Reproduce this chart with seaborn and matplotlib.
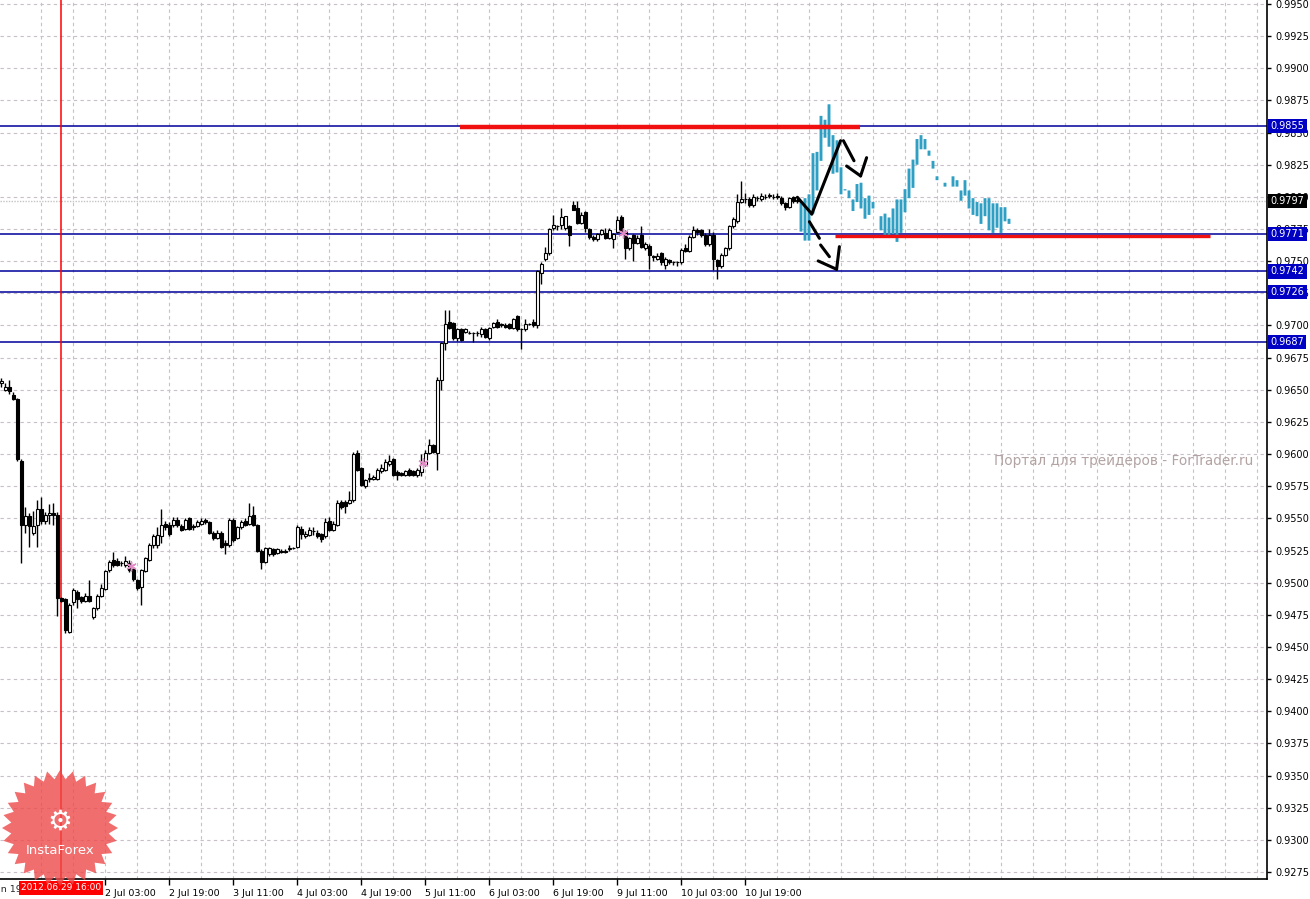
import numpy as np
import matplotlib
matplotlib.use('Agg')
import matplotlib.pyplot as plt
import matplotlib.transforms as mtransforms
from matplotlib.patches import Polygon
import seaborn as sns

# H1 candles, one per bar index (0 = left edge of the chart)
candle_open = [
    .9655, .9650, .9652, .9646, .9643, .9595, .9545, .9552, .9539, .9545,
    .9557, .9548, .9553, .9554, .9553, .9488, .9487, .9462, .9485, .9493,
    .9489, .9486, .9490, .9473, .9480, .9490, .9495, .9510, .9518, .9517,
    .9515, .9514, .9515, .9511, .9502, .9497, .9509, .9518, .9529, .9529,
    .9536, .9546, .9545, .9545, .9549, .9544, .9542, .9550, .9544, .9544,
    .9546, .9549, .9547, .9539, .9535, .9539, .9531, .9529, .9549, .9535,
    .9543, .9548, .9546, .9553, .9545, .9525, .9516, .9522, .9526, .9523,
    .9525, .9525, .9526, .9527, .9528, .9542, .9536, .9537, .9540, .9539,
    .9538, .9536, .9548, .9541, .9545, .9563, .9563, .9562, .9564, .9601,
    .9589, .9575, .9581, .9581, .9581, .9587, .9588, .9592, .9596, .9586,
    .9585, .9584, .9588, .9587, .9584, .9586, .9592, .9601, .9607, .9601,
    .9658, .9686, .9703, .9702, .9690, .9697, .9695, .9694, .9694, .9694,
    .9693, .9697, .9690, .9699, .9703, .9701, .9700, .9701, .9698, .9707,
    .9697, .9697, .9701, .9703, .9700, .9741, .9752, .9756, .9776, .9777,
    .9778, .9776, .9777, .9794, .9791, .9780, .9788, .9775, .9769, .9767,
    .9771, .9772, .9768, .9767, .9773, .9784, .9773, .9760, .9770, .9764,
    .9770, .9760, .9762, .9754, .9752, .9756, .9747, .9751, .9749, .9749,
    .9749, .9760, .9758, .9769, .9774, .9774, .9770, .9763, .9770, .9751,
    .9746, .9755, .9760, .9777, .9781, .9796, .9798, .9798, .9794, .9799,
    .9798, .9800, .9801, .9800, .9800, .9799, .9795, .9792, .9800, .9797,
]
candle_high = [
    .9659, .9655, .9658, .9648, .9644, .9596, .9559, .9554, .9556, .9564,
    .9567, .9555, .9561, .9562, .9555, .9489, .9488, .9484, .9496, .9494,
    .9490, .9492, .9502, .9481, .9491, .9499, .9510, .9518, .9524, .9519,
    .9517, .9521, .9518, .9512, .9503, .9511, .9520, .9531, .9538, .9543,
    .9557, .9548, .9547, .9551, .9551, .9546, .9550, .9551, .9546, .9549,
    .9550, .9550, .9548, .9540, .9541, .9540, .9533, .9550, .9550, .9544,
    .9549, .9550, .9562, .9560, .9546, .9526, .9528, .9528, .9527, .9527,
    .9526, .9526, .9529, .9528, .9545, .9544, .9540, .9543, .9543, .9541,
    .9539, .9550, .9551, .9548, .9564, .9564, .9564, .9571, .9602, .9603,
    .9590, .9581, .9585, .9584, .9589, .9592, .9596, .9599, .9597, .9588,
    .9586, .9588, .9589, .9588, .9589, .9600, .9603, .9612, .9608, .9660,
    .9687, .9712, .9712, .9703, .9698, .9698, .9698, .9696, .9695, .9696,
    .9699, .9698, .9699, .9703, .9705, .9702, .9702, .9702, .9706, .9708,
    .9698, .9705, .9702, .9705, .9743, .9749, .9761, .9776, .9786, .9778,
    .9791, .9785, .9778, .9797, .9797, .9788, .9789, .9776, .9770, .9772,
    .9775, .9776, .9776, .9772, .9785, .9786, .9774, .9769, .9771, .9770,
    .9777, .9765, .9763, .9755, .9756, .9757, .9753, .9752, .9750, .9750,
    .9760, .9763, .9770, .9777, .9776, .9775, .9772, .9775, .9773, .9752,
    .9756, .9761, .9778, .9784, .9802, .9812, .9803, .9800, .9802, .9801,
    .9803, .9802, .9803, .9802, .9803, .9801, .9796, .9800, .9801, .9800,
]
candle_low = [
    .9652, .9649, .9647, .9642, .9595, .9515, .9539, .9528, .9537, .9528,
    .9546, .9546, .9546, .9545, .9474, .9485, .9461, .9461, .9483, .9480,
    .9484, .9485, .9485, .9472, .9479, .9489, .9494, .9508, .9512, .9513,
    .9513, .9512, .9508, .9501, .9494, .9483, .9508, .9517, .9527, .9527,
    .9531, .9541, .9536, .9543, .9543, .9540, .9541, .9541, .9541, .9543,
    .9545, .9546, .9538, .9533, .9534, .9527, .9522, .9528, .9532, .9534,
    .9542, .9544, .9545, .9544, .9524, .9511, .9515, .9521, .9521, .9522,
    .9523, .9523, .9525, .9526, .9527, .9534, .9535, .9536, .9537, .9535,
    .9532, .9535, .9540, .9540, .9544, .9557, .9554, .9561, .9563, .9587,
    .9575, .9574, .9578, .9580, .9580, .9585, .9587, .9591, .9583, .9580,
    .9583, .9583, .9583, .9583, .9582, .9583, .9591, .9600, .9601, .9588,
    .9650, .9681, .9697, .9689, .9688, .9688, .9694, .9693, .9687, .9692,
    .9691, .9690, .9689, .9698, .9698, .9699, .9698, .9697, .9697, .9696,
    .9682, .9696, .9700, .9699, .9698, .9732, .9750, .9755, .9774, .9774,
    .9775, .9774, .9762, .9790, .9779, .9779, .9773, .9767, .9766, .9766,
    .9770, .9767, .9767, .9760, .9772, .9772, .9752, .9759, .9750, .9763,
    .9760, .9759, .9744, .9750, .9751, .9747, .9744, .9748, .9747, .9746,
    .9748, .9757, .9757, .9768, .9770, .9769, .9762, .9762, .9743, .9736,
    .9745, .9754, .9759, .9776, .9780, .9795, .9795, .9792, .9792, .9797,
    .9797, .9798, .9799, .9798, .9798, .9794, .9790, .9791, .9795, .9795,
]
candle_close = [
    .9657, .9652, .9649, .9643, .9596, .9545, .9552, .9544, .9544, .9557,
    .9548, .9553, .9554, .9553, .9488, .9486, .9463, .9483, .9494, .9487,
    .9486, .9490, .9486, .9480, .9490, .9496, .9509, .9516, .9514, .9514,
    .9515, .9517, .9510, .9503, .9496, .9510, .9519, .9529, .9536, .9537,
    .9545, .9543, .9538, .9549, .9545, .9541, .9549, .9542, .9543, .9547,
    .9548, .9547, .9539, .9535, .9539, .9528, .9529, .9549, .9533, .9543,
    .9547, .9545, .9552, .9545, .9525, .9516, .9527, .9527, .9522, .9526,
    .9524, .9524, .9527, .9527, .9543, .9538, .9538, .9541, .9540, .9536,
    .9534, .9547, .9541, .9546, .9562, .9559, .9560, .9564, .9600, .9588,
    .9576, .9580, .9581, .9582, .9588, .9589, .9594, .9595, .9584, .9584,
    .9584, .9587, .9584, .9584, .9588, .9592, .9601, .9607, .9602, .9658,
    .9686, .9701, .9698, .9690, .9697, .9689, .9697, .9694, .9694, .9694,
    .9697, .9691, .9698, .9702, .9699, .9700, .9699, .9698, .9705, .9697,
    .9697, .9701, .9701, .9700, .9742, .9748, .9756, .9775, .9778, .9777,
    .9784, .9785, .9770, .9790, .9780, .9786, .9776, .9769, .9767, .9771,
    .9774, .9768, .9774, .9771, .9782, .9773, .9760, .9768, .9764, .9768,
    .9761, .9763, .9755, .9753, .9754, .9749, .9752, .9749, .9749, .9749,
    .9759, .9758, .9769, .9774, .9773, .9770, .9763, .9770, .9752, .9746,
    .9755, .9760, .9777, .9783, .9796, .9798, .9798, .9794, .9800, .9799,
    .9801, .9800, .9801, .9800, .9801, .9795, .9792, .9799, .9797, .9797,
]

# blue projection bars (bar index 200..252), nan = no bar
proj_start = 200
proj_top = [
    .9796, .9799, .9802, .9834, .9835, .9863, .9860, .9872, .9848, .9844,
    .9823, .9806, .9805, .9798, .9810, .9811, .9799, .9801, .9796, np.nan,
    .9785, .9787, .9784, .9791, .9798, .9798, .9806, .9822, .9829, .9845,
    .9848, .9845, .9836, .9828, .9816, np.nan, .9811, np.nan, .9816, .9813,
    .9805, .9813, .9805, .9799, .9796, .9795, .9799, .9799, .9795, .9795,
    .9792, .9792, .9783,
]
proj_bottom = [
    .9773, .9766, .9766, .9787, .9805, .9828, .9846, .9839, .9818, .9819,
    .9802, .9805, .9799, .9789, .9796, .9791, .9783, .9786, .9791, np.nan,
    .9774, .9770, .9768, .9771, .9765, .9772, .9788, .9799, .9807, .9825,
    .9837, .9837, .9832, .9822, .9813, np.nan, .9808, np.nan, .9808, .9808,
    .9797, .9801, .9791, .9786, .9785, .9779, .9785, .9774, .9772, .9776,
    .9772, .9781, .9779,
]

# horizontal levels with right-hand labels
levels = [0.9855, 0.9771, 0.9742, 0.9726, 0.9687]
bid_price = 0.9797

# hand drawn red support / resistance segments: (start bar, end bar, price)
red_lines = [(114.75, 214.75, 0.9854), (208.5, 302.25, 0.97696)]
red_line_widths = [3.2, 2.4]
marker_bar = 15
marker_label = '2012.06.29 16:00'

# time axis labels
tick_bars = [26, 42, 58, 74, 90, 106, 122, 138, 154, 170, 186]
tick_labels = ['2 Jul 03:00', '2 Jul 19:00', '3 Jul 11:00', '4 Jul 03:00', '4 Jul 19:00',
               '5 Jul 11:00', '6 Jul 03:00', '6 Jul 19:00', '9 Jul 11:00', '10 Jul 03:00',
               '10 Jul 19:00']

# pink fractal marks
star_bars = [32.6, 105.4, 155.6]
star_prices = [0.9513, 0.9593, 0.9772]

# black arrows drawn on the chart
solid_x = [[202.7, 209.9]]
solid_y = [[0.97867, 0.98437]]
dash_x = [[199.1, 202.7], [202.1, 204.6], [204.9, 207.1], [204.3, 208.9], [209.6, 208.9],
          [210.6, 213.25], [211.4, 214.9], [216.4, 214.9]]
dash_y = [[0.97997, 0.97867], [0.97807, 0.97678], [0.97626, 0.97535], [0.97502, 0.97437],
          [0.97613, 0.97437], [0.98437, 0.98281], [0.98240, 0.98163], [0.98305, 0.98163]]

W, H = 1310, 899
sns.set_theme(style='white')
plt.rcParams['font.family'] = ['DejaVu Sans']

fig = plt.figure(figsize=(W / 100, H / 100), dpi=100)
fig.patch.set_facecolor('white')
ax = fig.add_axes([0, 20 / H, 1267 / W, 879 / H])
ax.set_facecolor('white')

ax.set_xlim(-0.25, 316.5)
ax.set_ylim(0.92696, 0.99531)

grid_kw = dict(color='#c9bfc9', lw=0.8, ls=(0, (3, 3)), zorder=0)
for g in np.arange(10, 317, 8):
    ax.axvline(g, **grid_kw)
yt = np.arange(0.9275, 0.99501, 0.0025)
for g in yt:
    ax.axhline(g, **grid_kw)

ax.axhline(bid_price, color='#c4c4c4', lw=1, ls=(0, (1, 1)), zorder=1)
for lv in levels:
    ax.axhline(lv, color='#00009a', lw=1.1, zorder=2)

ax.axvline(marker_bar, color='#ff0000', lw=1.1, zorder=2)

o = np.array(candle_open)
h = np.array(candle_high)
l = np.array(candle_low)
c = np.array(candle_close)
idx = np.arange(len(o))
ax.vlines(idx, l, h, color='black', lw=1, zorder=3)
fills = np.where(c >= o, 'white', 'black')
ax.bar(idx, np.maximum(np.abs(c - o), 0.00003), bottom=np.minimum(o, c), width=0.75,
       color=fills, edgecolor='black', linewidth=0.8, zorder=4)

pt = np.array(proj_top)
pb = np.array(proj_bottom)
pidx = np.arange(proj_start, proj_start + len(pt))
proj = ax.bar(pidx, pt - pb, bottom=pb, width=0.72, color='#2f9fc3', linewidth=0, zorder=4)
for r in proj:
    r.set_snap(False)

for (x0, x1, p), lw in zip(red_lines, red_line_widths):
    ax.plot([x0, x1], [p, p], color='#f01010', lw=lw, solid_capstyle='butt', zorder=5)

for xs, ys in zip(solid_x, solid_y):
    ax.plot(xs, ys, color='black', lw=2.2, solid_capstyle='round', zorder=6)
for xs, ys in zip(dash_x, dash_y):
    ax.plot(xs, ys, color='black', lw=2.2, solid_capstyle='round', zorder=6)

sns.scatterplot(x=star_bars, y=star_prices, marker=(6, 2, 0), s=45, color='#e38bc6',
                linewidth=1, ax=ax, zorder=5)

# axes look
for s in ['top', 'left']:
    ax.spines[s].set_visible(False)
for s in ['right', 'bottom']:
    ax.spines[s].set_color('black')
    ax.spines[s].set_linewidth(1.2)
ax.yaxis.tick_right()
ax.set_yticks(yt)
ax.set_yticklabels(['%.4f' % v for v in yt])
ax.tick_params(axis='y', right=True, left=False, length=3, width=1, pad=3,
               labelsize=7, colors='black')
ax.set_xticks(tick_bars)
ax.set_xticklabels(tick_labels)
ax.tick_params(axis='x', bottom=True, length=4, width=1, pad=3, labelsize=6.8, colors='black')
for lab in ax.get_xticklabels():
    lab.set_ha('left')

trans = mtransforms.blended_transform_factory(ax.transAxes, ax.transData)
for lv in levels:
    ax.text(1.0028, lv, '%.4f' % lv, transform=trans, ha='left', va='center', fontsize=7,
            color='white', zorder=10, clip_on=False,
            bbox=dict(boxstyle='square,pad=0.22', fc='#0000c4', ec='none'))
ax.text(1.0028, bid_price, '%.4f' % bid_price, transform=trans, ha='left', va='center',
        fontsize=7, color='white', zorder=10, clip_on=False,
        bbox=dict(boxstyle='square,pad=0.22', fc='black', ec='none'))

# partly hidden first time label and the red cursor label
fig.text(-23 / W, 1 - 889 / H, '28 Jun 19:00', fontsize=6.8, ha='left', va='center')
fig.text(61 / W, 1 - 888 / H, marker_label, fontsize=6.5, ha='center', va='center',
         color='white', zorder=10,
         bbox=dict(boxstyle='square,pad=0.25', fc='#ff0000', ec='none'))

fig.text(994 / W, 1 - 461 / H, 'Портал для трейдеров - ForTrader.ru', fontsize=9.8,
         color='#b3a3a3', ha='left', va='center')

# InstaForex badge
cx, cy = 60, H - 828
n = 28
ang = np.linspace(0, 2 * np.pi, 2 * n, endpoint=False) + np.pi / 2
rad = np.where(np.arange(2 * n) % 2 == 0, 58, 49)
verts = np.column_stack([cx + rad * np.cos(ang), cy + rad * np.sin(ang)])
badge = Polygon(verts, closed=True, fc='#ee4a4a', ec='none', alpha=0.8,
                transform=mtransforms.IdentityTransform(), zorder=20)
fig.add_artist(badge)
fig.text(60 / W, 1 - 822 / H, '\u2699', fontsize=20, color='white', ha='center',
         va='center', zorder=21)
fig.text(60 / W, 1 - 851 / H, 'InstaForex', fontsize=9.5, color='white', ha='center',
         va='center', zorder=21)

fig.savefig('out.png', dpi=100, facecolor='white')
